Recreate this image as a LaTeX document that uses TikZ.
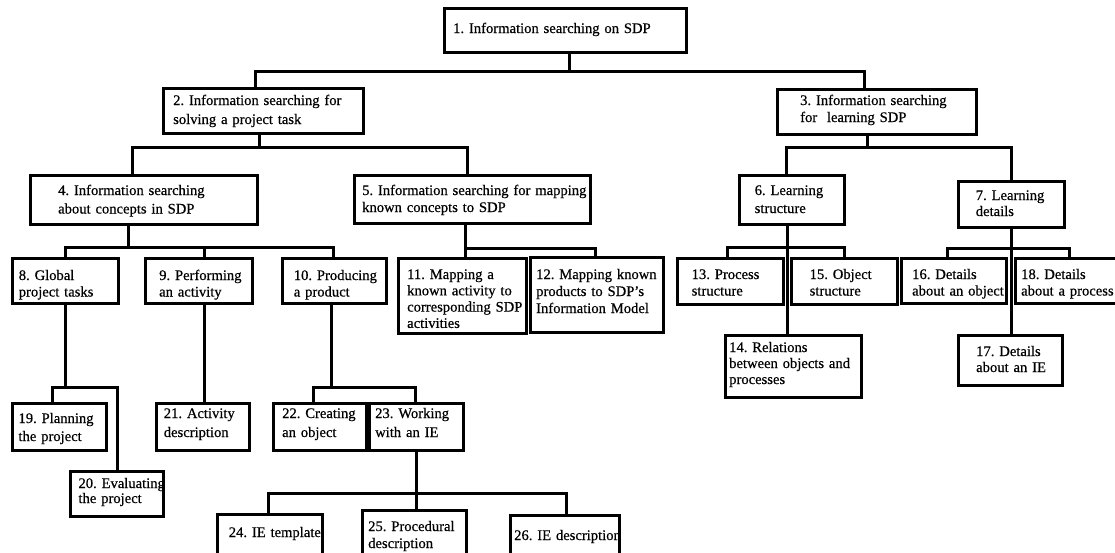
\documentclass[tikz,border=0pt]{standalone}
\usepackage{fontspec}
\setmainfont{Liberation Serif}[FakeBold=0.5]
\frenchspacing
\tikzset{
  box/.style={draw, line width=3pt, inner sep=0pt, outer sep=0pt},
  lbl/.style={anchor=base west, inner sep=0pt, align=left, text width=240pt},
  conn/.style={line width=3pt, line join=miter}
}
\newcommand\bx[9]{%
  \node[box, minimum width={#4pt-#2pt}, minimum height={#5pt-#3pt}] (#1) at ({(#2+#4)/2},{(#3+#5)/2}) {};
  \node[lbl, font=\fontsize{14.6}{#8}\selectfont] (#1t) at (#6,#7) {#9};}
\begin{document}
\begin{tikzpicture}[x=1pt,y=-1pt]
\useasboundingbox (0,0) rectangle (1115,552);
\fill[white] (0,0) rectangle (1115,552);
\clip (0,0) rectangle (1115,552);
% boxes
\bx{b1}{444.6}{8}{686}{52}{453}{33}{17}{1. Information searching on SDP}
\bx{b2}{163.6}{88}{363}{133}{173}{105}{19}{2. Information searching for\\solving a project task}
\bx{b3}{777.6}{89}{976}{134}{800}{105}{17}{3. Information searching\\for\ \ learning SDP}
\bx{b4}{30}{175}{257}{224}{58}{195}{18.5}{4. Information searching\\about concepts in SDP}
\bx{b5}{354}{175}{590}{223}{362}{195}{17}{5. Information searching for mapping\\known concepts to SDP}
\bx{b6}{739}{175}{844}{224}{754.5}{195}{18}{6. Learning\\structure}
\bx{b7}{958}{181}{1064}{227}{975.6}{200}{16}{7. Learning\\details}
\bx{b8}{12.5}{258}{118}{303}{18.6}{280}{16.5}{8. Global\\project tasks}
\bx{b9}{145}{258}{252}{303}{159}{280}{16.5}{9. Performing\\an activity}
\bx{b10}{282}{258}{386}{303}{293.6}{280}{16.5}{10. Producing\\a product}
\bx{b11}{398}{258}{526}{333}{407}{279}{16.3}{11. Mapping a\\known activity to\\corresponding SDP\\activities}
\bx{b12}{530}{257}{663}{332}{536}{279}{17}{12. Mapping known\\products to SDP's\\Information Model}
\bx{b13}{677}{258}{783}{304}{691.5}{279}{16.5}{13. Process\\structure}
\bx{b15}{791}{258}{897.5}{304}{809.5}{279}{16.5}{15. Object\\structure}
\bx{b16}{901}{258}{1006}{303}{912}{279}{16.5}{16. Details\\about an object}
\bx{b18}{1015}{258}{1125}{303}{1021}{279}{16.5}{18. Details\\about a process}
\bx{b14}{725}{335}{861}{397}{729}{352}{16}{14. Relations\\between objects and\\processes}
\bx{b17}{958}{335}{1062.5}{385}{976}{356}{16}{17. Details\\about an IE}
\bx{b19}{12}{403}{106}{450}{18.3}{423}{18}{19. Planning\\the project}
\bx{b20}{70}{471}{163}{516}{78.3}{488}{15}{20. Evaluating\\the project}
\bx{b21}{156}{403}{249}{450}{163.6}{418}{19}{21. Activity\\description}
\bx{b22}{273}{403}{366}{450}{282}{418}{19}{22. Creating\\an object}
\bx{b23}{369}{403}{463}{450}{375}{418}{19}{23. Working\\with an IE}
\bx{b24}{217}{514}{322.5}{570}{228.6}{537}{17}{24. IE template}
\bx{b25}{362.5}{510}{466}{570}{368}{531}{17}{25. Procedural\\description}
\bx{b26}{510}{515}{619}{570}{514}{540}{17}{26. IE description}
% junctions
\coordinate (j1) at (569,71);
\coordinate (j2) at (259,147);
\coordinate (j3) at (867.5,147);
\coordinate (j4) at (128.6,247);
\coordinate (j5) at (465,248);
\coordinate (j6) at (787.5,247);
\coordinate (j7) at (1011,248);
\coordinate (j8) at (65,387);
\coordinate (j10) at (331,387);
\coordinate (j23) at (416,493);
% connectors
\draw[conn] (b1.south -| j1) -- (j1);
\draw[conn] (b2.north -| 255,0) |- (j1) -| (b3.north -| 864.5,0);
\draw[conn] (b2.south -| j2) -- (j2);
\draw[conn] (b4.north -| 132,0) |- (j2) -| (b5.north -| 467,0);
\draw[conn] (b3.south -| j3) -- (j3);
\draw[conn] (b6.north -| 786,0) |- (j3) -| (b7.north -| 1011,0);
\draw[conn] (b4.south -| j4) -- (j4);
\draw[conn] (b8.north -| 65,0) |- (j4) -| (b10.north -| 333,0);
\draw[conn] (b9.north -| 204,0) -- (204,247);
\draw[conn] (b5.south -| j5) -- (b11.north -| j5);
\draw[conn] (j5) -| (b12.north -| 595,0);
\draw[conn] (b6.south -| j6) -- (b14.north -| j6);
\draw[conn] (b13.north -| 727,0) |- (j6) -| (b15.north -| 844,0);
\draw[conn] (b7.south -| j7) -- (b17.north -| j7);
\draw[conn] (b16.north -| 947,0) |- (j7) -| (b18.north -| 1069,0);
\draw[conn] (b8.south -| j8) -- (j8);
\draw[conn] (b19.north -| 52,0) |- (j8) -| (b20.north -| 117,0);
\draw[conn] (b9.south -| 204,0) -- (b21.north -| 204,0);
\draw[conn] (b10.south -| j10) -- (j10);
\draw[conn] (b22.north -| 313,0) |- (j10) -| (b23.north -| 415,0);
\draw[conn] (b23.south -| j23) -- (j23);
\draw[conn] (b24.north -| 268.6,0) |- (j23) -| (b26.north -| 566,0);
\draw[conn] (b25.north -| j23) -- (j23);
\end{tikzpicture}
\end{document}
